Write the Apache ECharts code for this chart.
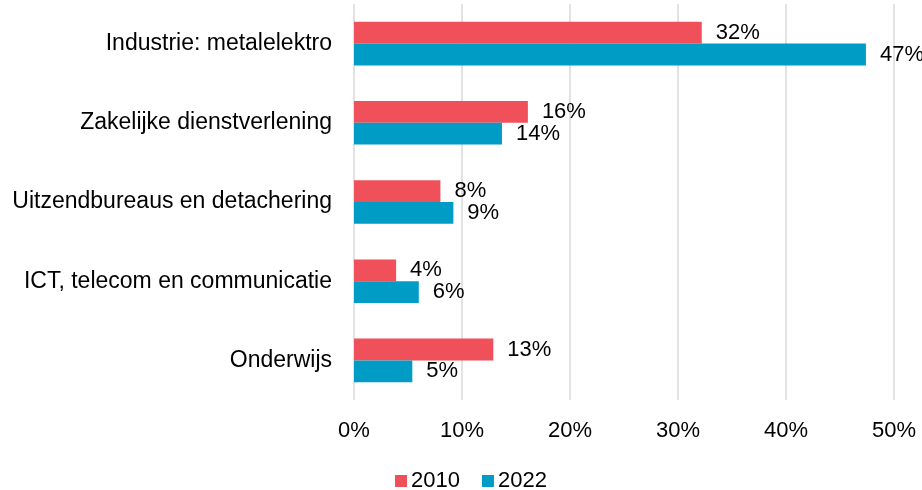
<!DOCTYPE html>
<html>
<head>
<meta charset="utf-8">
<script src="https://cdn.jsdelivr.net/npm/echarts@6/dist/echarts.min.js"></script>
<style>
  html, body { margin: 0; padding: 0; background: #fff; }
  #main { width: 922px; height: 490px; }
</style>
</head>
<body>
<div id="main"></div>
<script>
// sectoren, van boven naar beneden
var categories = ['Industrie: metalelektro', 'Zakelijke dienstverlening', 'Uitzendbureaus en detachering', 'ICT, telecom en communicatie', 'Onderwijs']
var values2010 = [32.2, 16.1, 8.0, 3.9, 12.9]
var values2022 = [47.4, 13.7, 9.2, 6.0, 5.4]
var xTicks = [0, 10, 20, 30, 40, 50]

var FONT = '"Liberation Sans", Arial, sans-serif'
var FS = 22

var myChart = echarts.init(document.getElementById('main'))

var labelOpt = {
  show: true,
  position: 'right',
  distance: 14,
  color: '#000',
  fontSize: FS,
  fontFamily: FONT,
  formatter: function (p) { return Math.round(p.value) + '%' }
}

myChart.setOption({
  animation: false,
  textStyle: { fontFamily: FONT },
  legend: {
    top: 465,
    left: 390,
    itemWidth: 12,
    itemHeight: 12,
    itemGap: 22,
    icon: 'rect',
    textStyle: { fontSize: FS, color: '#000', fontFamily: FONT, padding: [0, 0, 0, -1] },
    data: ['2010', '2022']
  },
  grid: { left: 354, right: 28, top: 4, bottom: 90 },
  xAxis: {
    type: 'value',
    min: xTicks[0],
    max: xTicks[xTicks.length - 1],
    interval: 10,
    axisLine: { show: false },
    axisTick: { show: false },
    axisLabel: { color: '#000', fontSize: FS, fontFamily: FONT, margin: 20, formatter: '{value}%' },
    splitLine: { lineStyle: { color: '#d9d9d9', width: 1.5 } }
  },
  yAxis: {
    type: 'category',
    inverse: true,
    data: categories,
    axisLine: { show: false },
    axisTick: { show: false },
    axisLabel: { color: '#000', fontSize: 23, fontFamily: FONT, margin: 22 }
  },
  series: [
    {
      name: '2010',
      type: 'bar',
      data: values2010,
      barGap: '0%',
      barCategoryGap: '45%',
      itemStyle: { color: '#F0505A' },
      label: labelOpt
    },
    {
      name: '2022',
      type: 'bar',
      data: values2022,
      itemStyle: { color: '#019CC6' },
      label: labelOpt
    }
  ]
})
</script>
</body>
</html>
